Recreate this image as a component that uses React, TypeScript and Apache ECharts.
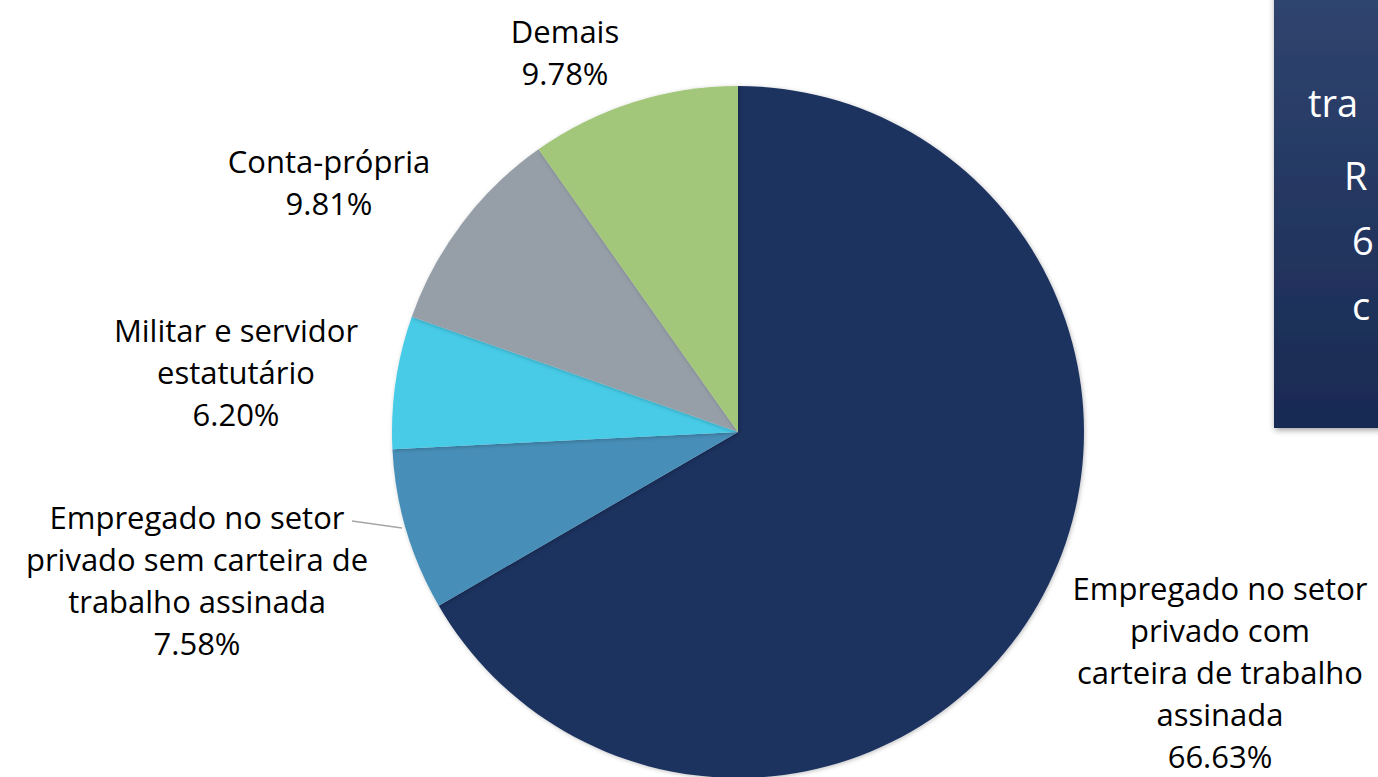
import React, { useEffect, useRef } from "react";
import * as echarts from "echarts";

const categories = [
  "Empregado no setor\nprivado com\ncarteira de trabalho\nassinada",
  "Empregado no setor\nprivado sem carteira de\ntrabalho assinada",
  "Militar e servidor\nestatutário",
  "Conta-própria",
  "Demais",
];
const values = [66.63, 7.58, 6.2, 9.81, 9.78];
const colors = ["#1c325f", "#468fb9", "#46cbe7", "#969fa8", "#a3c77a"];
const labelSpots = [
  [1220, 672],
  [197, 580],
  [236, 372],
  [329, 182],
  [565, 52],
];
const boxTexts = ["tra", "R", "6", "c"];
const boxTextSpots = [
  [1308, 102],
  [1344, 175],
  [1352, 240],
  [1352, 305],
];

export default function App() {
  const ref = useRef<HTMLDivElement>(null);
  useEffect(() => {
    if (!ref.current) return;
    const chart = echarts.init(ref.current, undefined, { renderer: "svg" });
    const fontFamily = "'Open Sans', Lato, sans-serif";
    chart.setOption({
      animation: false,
      backgroundColor: "#ffffff",
      series: [
        {
          type: "pie",
          center: [738, 432],
          radius: 346,
          startAngle: 90,
          clockwise: true,
          avoidLabelOverlap: false,
          data: categories.map((c, i) => ({
            name: c,
            value: values[i],
            itemStyle: { color: colors[i] },
          })),
          itemStyle: {
            shadowBlur: 4,
            shadowColor: "rgba(0,0,0,0.25)",
            shadowOffsetX: 1,
            shadowOffsetY: 1,
          },
          label: {
            show: true,
            formatter: (p: any) => `${p.name}\n${p.value.toFixed(2)}%`,
            color: "#000000",
            fontSize: 31,
            lineHeight: 42,
            fontFamily,
            align: "center",
          },
          labelLine: { show: false },
          labelLayout: (params: any) => {
            const s = labelSpots[params.dataIndex];
            return { x: s[0], y: s[1], align: "center", verticalAlign: "middle" };
          },
          emphasis: { disabled: true },
        },
      ],
      graphic: [
        {
          type: "line",
          shape: { x1: 352, y1: 521, x2: 402, y2: 528 },
          style: { stroke: "#a6a6a6", lineWidth: 1.5 },
          z: 10,
        },
        {
          type: "rect",
          shape: { x: 1274, y: -10, width: 130, height: 438 },
          style: {
            fill: new echarts.graphic.LinearGradient(0, 0, 0, 1, [
              { offset: 0, color: "#30456f" },
              { offset: 1, color: "#182a52" },
            ]),
            shadowBlur: 6,
            shadowColor: "rgba(0,0,0,0.4)",
            shadowOffsetX: 1,
            shadowOffsetY: 2,
          },
          z: 10,
        },
        ...boxTexts.map((t, i) => ({
          type: "text",
          x: boxTextSpots[i][0],
          y: boxTextSpots[i][1],
          style: {
            text: t,
            fill: "#ffffff",
            fontSize: 38,
            fontFamily,
            verticalAlign: "middle",
          },
          z: 11,
        })),
      ],
    });
    return () => chart.dispose();
  }, []);
  return (
    <div
      ref={ref}
      style={{ position: "fixed", left: 0, top: 0, width: 1378, height: 777 }}
    />
  );
}
